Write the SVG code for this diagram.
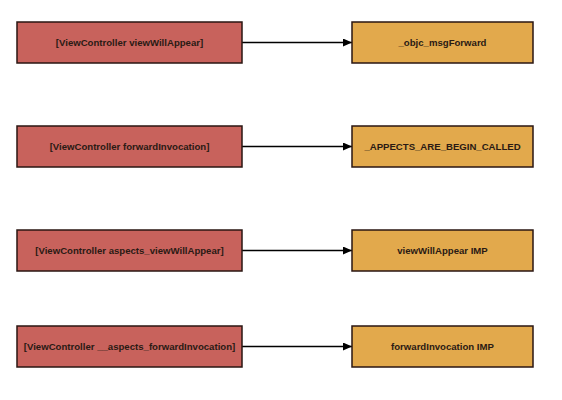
<svg xmlns="http://www.w3.org/2000/svg" width="562" height="400" viewBox="0 0 562 400">
<style>
.l{fill:#c8625c;stroke:#2a1612;stroke-width:1.5}
.r{fill:#e2a94c;stroke:#2a1612;stroke-width:1.5}
text{font-family:"Liberation Sans",Arial,sans-serif;font-size:9.6px;font-weight:bold;fill:#2a1a14;text-anchor:middle;dominant-baseline:central}
.c{stroke:#000;stroke-width:1.3;fill:none;marker-end:url(#a)}
</style>
<defs>
<marker id="a" markerWidth="9" markerHeight="8" refX="9" refY="4" orient="auto" markerUnits="userSpaceOnUse">
<path d="M0,0 L9,4 L0,8 Z" fill="#000"/>
</marker>
</defs>
<rect width="562" height="400" fill="#fff"/>
<g id="connectors">
<line class="c" x1="242" y1="42.5" x2="352" y2="42.5"/>
<line class="c" x1="242" y1="146.5" x2="352" y2="146.5"/>
<line class="c" x1="242" y1="250.5" x2="352" y2="250.5"/>
<line class="c" x1="242" y1="346.5" x2="352" y2="346.5"/>
</g>
<g id="n1"><rect class="l" x="17" y="22" width="225" height="41"/><text x="129.5" y="42.5">[ViewController viewWillAppear]</text></g>
<g id="n2"><rect class="r" x="352" y="22" width="181" height="41"/><text x="442.5" y="42.5">_objc_msgForward</text></g>
<g id="n3"><rect class="l" x="17" y="126" width="225" height="41"/><text x="129.5" y="146.5">[ViewController forwardInvocation]</text></g>
<g id="n4"><rect class="r" x="352" y="126" width="181" height="41"/><text x="442.5" y="146.5">_APPECTS_ARE_BEGIN_CALLED</text></g>
<g id="n5"><rect class="l" x="17" y="230" width="225" height="41"/><text x="129.5" y="250.5">[ViewController aspects_viewWillAppear]</text></g>
<g id="n6"><rect class="r" x="352" y="230" width="181" height="41"/><text x="442.5" y="250.5">viewWillAppear IMP</text></g>
<g id="n7"><rect class="l" x="17" y="326" width="225" height="41"/><text x="129.5" y="346.5">[ViewController __aspects_forwardInvocation]</text></g>
<g id="n8"><rect class="r" x="352" y="326" width="181" height="41"/><text x="442.5" y="346.5">forwardInvocation IMP</text></g>
</svg>
